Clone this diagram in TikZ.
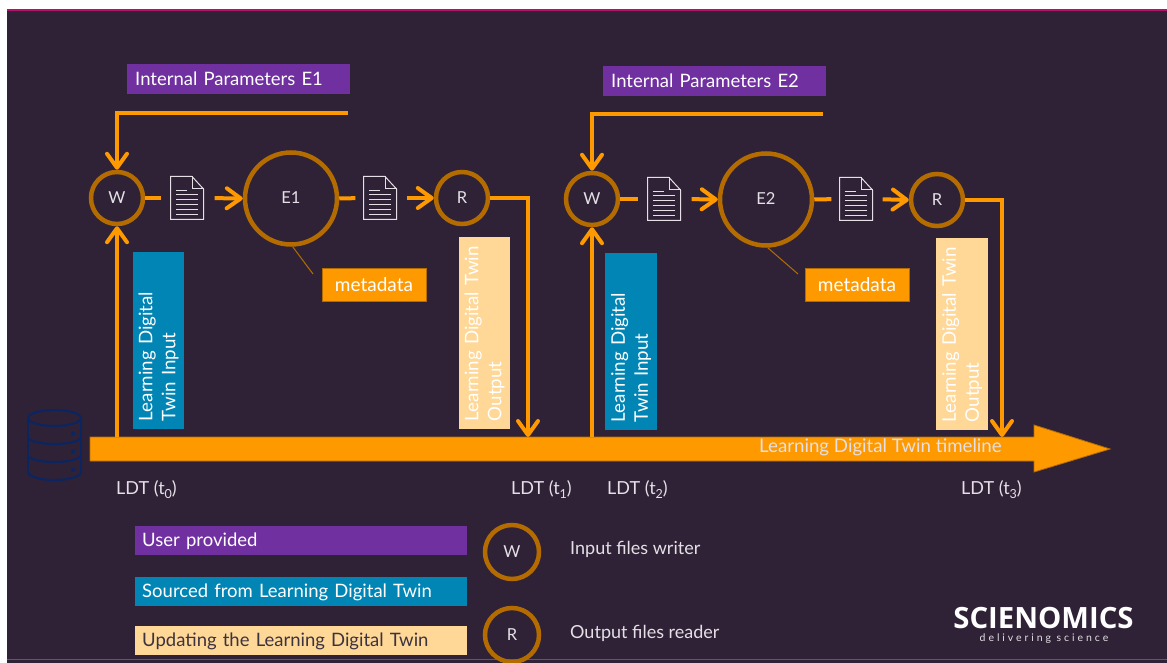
\documentclass[tikz,border=0pt]{standalone}
\usepackage{fontspec}
\setmainfont{Lato}
\usetikzlibrary{arrows.meta}
\definecolor{bgc}{HTML}{2F2236}
\definecolor{magc}{HTML}{B5126E}
\definecolor{botc}{HTML}{6B4D80}
\definecolor{purp}{HTML}{7030A0}
\definecolor{bluec}{HTML}{0085B5}
\definecolor{peach}{HTML}{FFD797}
\definecolor{orangec}{HTML}{FF9900}
\definecolor{ringc}{HTML}{B46C00}
\definecolor{navy}{HTML}{0B2560}
\definecolor{softw}{HTML}{E4E0E6}
\definecolor{darkt}{HTML}{3B3340}
\tikzset{
  x=1pt,y=-1pt,
  flow/.style={draw=orangec,line width=4pt},
  arr/.style={flow,-{Straight Barb[length=14pt,width=20pt,line width=4pt,round]}},
  ring/.style={circle,draw=ringc,line width=4.5pt,text=softw,font=\fontsize{16.5}{19}\selectfont,inner sep=0pt,minimum size=52pt},
  bigring/.style={ring,minimum size=92pt},
  tag/.style={inner sep=0pt,text=white,font=\fontsize{18.5}{21}\selectfont,anchor=north west,align=left},
  legbar/.style={tag,minimum width=332pt,minimum height=29pt,text width=332pt,text height=12.5pt,text depth=0pt},
  toptag/.style={tag,fill=purp,minimum width=223pt,minimum height=30pt,text width=223pt},
  metatag/.style={fill=orangec,draw=ringc,line width=1pt,text=white,font=\fontsize{19}{21}\selectfont,minimum width=104pt,minimum height=33pt,inner sep=0pt},
  vtag/.style={rotate=90,fill=#1,text=white,font=\fontsize{18.7}{23}\selectfont,inner sep=0pt,align=left},
  plain/.style={inner sep=0pt,text=softw,font=\fontsize{18}{21}\selectfont,anchor=west},
  docbox/.style={inner sep=0pt,minimum width=33pt,minimum height=43pt},
  pics/docpage/.style={code={
    \draw[softw,line width=1pt,line join=miter] (-16.5,-21.5) -- (5,-21.5) -- (16.5,-9) -- (16.5,21.5) -- (-16.5,21.5) -- cycle;
    \draw[softw,line width=1pt] (5,-21.5) -- (5,-9) -- (16.5,-9);
    \draw[softw,line width=1pt] (-11,-7.5) -- (0,-7.5);
    \foreach \yy in {-3,2,7,12,16.5} \draw[softw,line width=1pt] (-11,\yy) -- (11,\yy);
  }}
}
\newcommand{\rl}[1]{\raisebox{1.5pt}{#1}}
\newcommand{\ldt}[1]{LDT (t\raisebox{-4pt}{\fontsize{12.5}{12.5}\selectfont #1})}
\begin{document}
\begin{tikzpicture}
\useasboundingbox (0,0) rectangle (1167,663);
\fill[white] (0,0) rectangle (1167,663);
\fill[bgc] (7,9) rectangle (1167,663);
\fill[magc] (7,9) rectangle (1167,11);
\draw[botc,line width=1pt] (7,659.5) -- (1167,659.5);

% timeline
\coordinate (t0) at (117,437);
\coordinate (t1) at (528,437);
\coordinate (t2) at (592,437);
\coordinate (t3) at (1002,437);
\path[fill=orangec,draw=ringc,line width=0.8pt] (90,437) -- (1034,437) -- (1034,425) -- (1110,449) -- (1034,472) -- (1034,461) -- (90,461) -- cycle;
\node[inner sep=0pt,text=softw,font=\fontsize{18.7}{21}\selectfont,anchor=west] (tl) at (759,447) {Learning Digital Twin timeline};

% database
\begin{scope}[navy,line width=2.2pt]
\draw (28,418) arc[start angle=180,end angle=540,x radius=26.5,y radius=8];
\draw (28,418) -- (28,472);
\draw (81,418) -- (81,472);
\draw (28,437) arc[start angle=180,end angle=0,x radius=26.5,y radius=7];
\draw (28,455) arc[start angle=180,end angle=0,x radius=26.5,y radius=7];
\draw (28,472) arc[start angle=180,end angle=0,x radius=26.5,y radius=8];
\fill (73,433.5) circle (2.2);
\fill (73,451.5) circle (2.2);
\fill (73,470) circle (2.2);
\end{scope}

% rings
\node[ring] (W1) at (117,198) {\rl{W}};
\node[bigring] (E1) at (291,198.5) {\rl{E1}};
\node[ring] (R1) at (462,198) {\rl{R}};
\node[ring] (W2) at (592,199) {\rl{W}};
\node[bigring] (E2) at (766,199.5) {\rl{E2}};
\node[ring] (R2) at (937,200) {\rl{R}};

% documents
\node[docbox] (d1) at (187,198) {};
\node[docbox] (d2) at (380,198) {};
\node[docbox] (d3) at (664,199) {};
\node[docbox] (d4) at (856,199) {};
\pic at (d1) {docpage};
\pic at (d2) {docpage};
\pic at (d3) {docpage};
\pic at (d4) {docpage};

% top tags
\node[toptag] (p1) at (127,64) {\hspace*{8pt}Internal Parameters E1};
\node[toptag] (p2) at (603,66) {\hspace*{8pt}Internal Parameters E2};
\coordinate (p1e) at (348,113);
\coordinate (p2e) at (823,114);

% vertical tags
\node[vtag=bluec,minimum width=177pt,minimum height=51pt,text width=161pt] (b1) at (158.5,340.5) {Learning Digital\\Twin Input};
\node[vtag=bluec,minimum width=177pt,minimum height=52pt,text width=161pt] (b2) at (631,341.5) {Learning Digital\\Twin Input};
\node[vtag=peach,minimum width=192pt,minimum height=51pt,text width=176pt] (o1) at (484.5,333) {Learning Digital Twin\\Output};
\node[vtag=peach,minimum width=192pt,minimum height=52pt,text width=176pt] (o2) at (962,334) {Learning Digital Twin\\Output};

% metadata
\node[metatag] (m1) at (374,284.5) {metadata};
\node[metatag] (m2) at (857,284.5) {metadata};
\coordinate (m1c) at (313,274);
\coordinate (m2c) at (798,274);
\draw[ringc,line width=1pt] (E1.-88) -- (m1c);
\draw[ringc,line width=1pt] (E2.-88) -- (m2c);

% connectors
\draw[arr] (p1e) -| (W1.north);
\draw[arr] (p2e) -| (W2.north);
\draw[arr] (t0) -- (W1.south);
\draw[arr] (t2) -- (W2.south);
\draw[flow,shorten >=9pt] (W1.east) -- (d1.west);
\draw[arr,shorten <=11pt] (d1.east) -- (E1.west);
\draw[flow,shorten >=8pt] (E1.east) -- (d2.west);
\draw[arr,shorten <=10pt] (d2.east) -- (R1.west);
\draw[arr] (R1.east) -| (t1);
\draw[flow,shorten >=9pt] (W2.east) -- (d3.west);
\draw[arr,shorten <=11pt] (d3.east) -- (E2.west);
\draw[flow,shorten >=8pt] (E2.east) -- (d4.west);
\draw[arr,shorten <=10pt] (d4.east) -- (R2.west);
\draw[arr] (R2.east) -| (t3);

% LDT labels
\node[plain] (l0) at (116,490) {\ldt{0}};
\node[plain] (l1) at (511,490) {\ldt{1}};
\node[plain] (l2) at (607,490) {\ldt{2}};
\node[plain] (l3) at (961,490) {\ldt{3}};

% legend
\node[legbar,fill=purp] (k1) at (135,526) {\hspace*{7pt}User provided};
\node[legbar,fill=bluec] (k2) at (135,577) {\hspace*{7pt}Sourced from Learning Digital Twin};
\node[legbar,fill=peach,text=darkt] (k3) at (135,626) {\hspace*{7pt}Updating the Learning Digital Twin};
\node[ring,minimum size=54pt] (kW) at (512,552) {\rl{W}};
\node[ring,minimum size=54pt] (kR) at (512,635) {\rl{R}};
\node[plain] (kWt) at (570,549) {Input files writer};
\node[plain] (kRt) at (570,633) {Output files reader};

% logo
\node[inner sep=0pt,text=white,font=\fontsize{29.3}{30}\bfseries] (lg) at (1043.5,618) {\fontspec{Open Sans}SCIENOMICS};
\node[inner sep=0pt,text=softw,font=\fontsize{10.5}{11}\selectfont] (lg2) at (1044,639) {\addfontfeatures{LetterSpace=28}delivering science};
\end{tikzpicture}
\end{document}
